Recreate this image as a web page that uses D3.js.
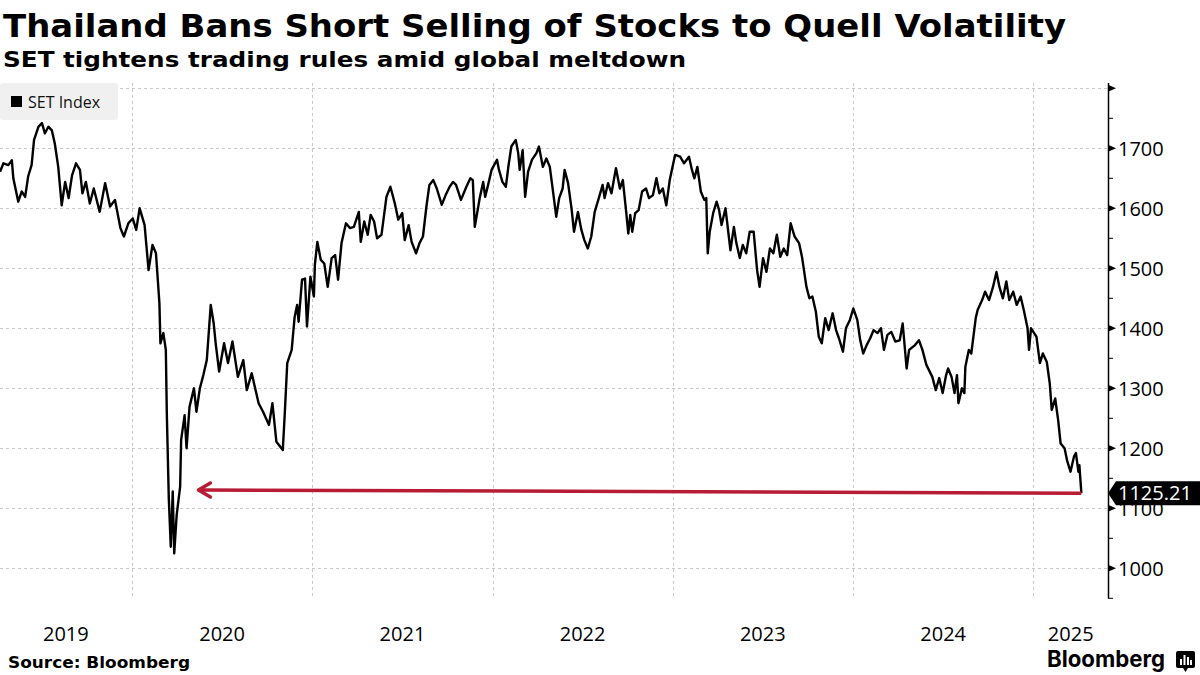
<!DOCTYPE html>
<html lang="en">
<head>
<meta charset="UTF-8">
<title>Thailand Bans Short Selling</title>
<script src="https://d3js.org/d3.v7.min.js"></script>
<style>
  body { margin: 0; background: #fff; }
  svg { display: block; }
</style>
</head>
<body>
<script>
// SET Index (approx. weekly samples)
const dates = [
  "2019-04-09","2019-04-16","2019-04-26","2019-05-03","2019-05-06","2019-05-16","2019-05-23","2019-05-30",
  "2019-06-05","2019-06-12","2019-06-17","2019-06-26","2019-07-03","2019-07-09","2019-07-16","2019-07-23",
  "2019-07-29","2019-08-05","2019-08-12","2019-08-19","2019-08-26","2019-09-02","2019-09-10","2019-09-18",
  "2019-09-23","2019-09-30","2019-10-08","2019-10-16","2019-10-28","2019-11-08","2019-11-18","2019-11-28",
  "2019-12-09","2019-12-16","2019-12-25","2020-01-03","2020-01-10","2020-01-17","2020-01-27","2020-02-04",
  "2020-02-12","2020-02-19","2020-02-26","2020-02-28","2020-03-05","2020-03-10","2020-03-12","2020-03-16",
  "2020-03-20","2020-03-24","2020-03-27","2020-04-01","2020-04-08","2020-04-10","2020-04-17","2020-04-21",
  "2020-04-27","2020-05-06","2020-05-11","2020-05-18","2020-05-25","2020-06-01","2020-06-09","2020-06-15",
  "2020-06-19","2020-06-26","2020-07-06","2020-07-14","2020-07-23","2020-08-03","2020-08-14","2020-08-21",
  "2020-08-31","2020-09-14","2020-09-23","2020-10-05","2020-10-12","2020-10-20","2020-11-02","2020-11-06",
  "2020-11-11","2020-11-20","2020-11-26","2020-12-01","2020-12-04","2020-12-11","2020-12-17","2020-12-21",
  "2020-12-28","2021-01-04","2021-01-06","2021-01-11","2021-01-18","2021-01-25","2021-02-01","2021-02-09",
  "2021-02-16","2021-02-22","2021-03-01","2021-03-10","2021-03-18","2021-03-26","2021-04-05","2021-04-09",
  "2021-04-16","2021-04-23","2021-04-29","2021-05-06","2021-05-12","2021-05-21","2021-05-31","2021-06-08",
  "2021-06-17","2021-06-24","2021-07-02","2021-07-07","2021-07-15","2021-07-21","2021-07-30","2021-08-06",
  "2021-08-13","2021-08-20","2021-08-26","2021-09-03","2021-09-10","2021-09-20","2021-09-28","2021-10-06",
  "2021-10-13","2021-10-19","2021-10-29","2021-11-09","2021-11-17","2021-11-22","2021-11-26","2021-12-06",
  "2021-12-13","2021-12-17","2021-12-23","2021-12-30","2022-01-10","2022-01-14","2022-01-21","2022-01-28",
  "2022-02-02","2022-02-08","2022-02-17","2022-02-22","2022-02-25","2022-03-03","2022-03-08","2022-03-14",
  "2022-03-22","2022-03-31","2022-04-05","2022-04-13","2022-04-20","2022-04-27","2022-05-04","2022-05-10",
  "2022-05-16","2022-05-23","2022-05-27","2022-06-03","2022-06-10","2022-06-15","2022-06-23","2022-06-30",
  "2022-07-06","2022-07-13","2022-07-20","2022-07-27","2022-08-05","2022-08-12","2022-08-16","2022-08-23",
  "2022-08-30","2022-09-08","2022-09-16","2022-09-22","2022-09-29","2022-10-03","2022-10-07","2022-10-11",
  "2022-10-17","2022-10-24","2022-10-31","2022-11-08","2022-11-14","2022-11-22","2022-11-29","2022-12-05",
  "2022-12-12","2022-12-19","2022-12-26","2023-01-03","2023-01-06","2023-01-16","2023-01-24","2023-02-03",
  "2023-02-09","2023-02-14","2023-02-20","2023-02-27","2023-03-06","2023-03-10","2023-03-13","2023-03-17",
  "2023-03-24","2023-03-31","2023-04-05","2023-04-10","2023-04-18","2023-04-24","2023-04-28","2023-05-05",
  "2023-05-10","2023-05-17","2023-05-23","2023-05-30","2023-06-06","2023-06-14","2023-06-21","2023-06-26",
  "2023-07-03","2023-07-10","2023-07-17","2023-07-24","2023-07-31","2023-08-07","2023-08-14","2023-08-21",
  "2023-08-28","2023-09-05","2023-09-14","2023-09-20","2023-09-29","2023-10-05","2023-10-11","2023-10-18",
  "2023-10-24","2023-10-30","2023-11-06","2023-11-13","2023-11-21","2023-11-28","2023-12-04","2023-12-12",
  "2023-12-18","2023-12-26","2024-01-02","2024-01-10","2024-01-16","2024-01-22","2024-01-29","2024-02-05",
  "2024-02-12","2024-02-20","2024-02-27","2024-03-04","2024-03-11","2024-03-19","2024-03-27","2024-04-05",
  "2024-04-11","2024-04-19","2024-04-24","2024-05-06","2024-05-14","2024-05-21","2024-05-29","2024-06-10",
  "2024-06-17","2024-06-24","2024-07-01","2024-07-08","2024-07-12","2024-07-19","2024-07-25","2024-07-30",
  "2024-08-02","2024-08-09","2024-08-14","2024-08-16","2024-08-23","2024-08-28","2024-09-06","2024-09-10",
  "2024-09-19","2024-09-25","2024-10-03","2024-10-11","2024-10-18","2024-10-24","2024-10-31","2024-11-07",
  "2024-11-13","2024-11-21","2024-11-28","2024-12-06","2024-12-13","2024-12-20","2024-12-23","2024-12-27",
  "2025-01-07","2025-01-14","2025-01-20","2025-01-28","2025-02-03","2025-02-07","2025-02-14","2025-02-20",
  "2025-02-25","2025-03-05","2025-03-10","2025-03-17","2025-03-24","2025-03-28","2025-04-02","2025-04-04",
  "2025-04-08"
];
const values = [
  1661,1675,1672,1680,1650,1611,1628,1619,
  1653,1672,1714,1736,1742,1725,1736,1730,
  1708,1669,1605,1644,1617,1655,1675,1664,
  1625,1644,1608,1633,1594,1642,1603,1614,
  1567,1553,1575,1583,1564,1600,1572,1497,
  1539,1525,1442,1375,1392,1364,1258,1117,
  1036,1128,1025,1089,1136,1214,1255,1200,
  1269,1300,1261,1300,1322,1347,1439,1408,
  1375,1328,1375,1342,1378,1319,1347,1297,
  1325,1275,1261,1239,1275,1211,1197,1258,
  1342,1364,1419,1439,1411,1481,1483,1403,
  1486,1453,1506,1544,1514,1508,1469,1517,
  1522,1481,1542,1575,1567,1569,1594,1544,
  1578,1556,1589,1578,1550,1556,1619,1636,
  1608,1581,1592,1547,1572,1544,1525,1542,
  1553,1603,1639,1647,1633,1606,1622,1636,
  1644,1639,1614,1636,1650,1647,1569,1617,
  1644,1619,1639,1664,1681,1664,1644,1636,
  1669,1703,1714,1692,1664,1697,1619,1661,
  1681,1692,1703,1669,1683,1669,1625,1586,
  1617,1633,1664,1642,1600,1561,1594,1564,
  1547,1533,1553,1594,1619,1639,1617,1642,
  1625,1667,1633,1647,1592,1558,1589,1561,
  1592,1597,1628,1633,1617,1622,1650,1625,
  1633,1605,1647,1678,1689,1686,1675,1686,
  1664,1650,1669,1628,1614,1617,1525,1561,
  1592,1611,1597,1572,1600,1558,1530,1569,
  1542,1517,1539,1525,1561,1561,1497,1469,
  1517,1494,1533,1525,1556,1519,1533,1522,
  1575,1553,1542,1519,1469,1450,1453,1428,
  1386,1375,1417,1397,1425,1397,1383,1361,
  1400,1414,1433,1414,1380,1358,1372,1383,
  1397,1392,1400,1364,1389,1394,1378,1380,
  1408,1333,1364,1372,1380,1364,1339,1319,
  1297,1317,1292,1322,1333,1319,1292,1322,
  1275,1300,1292,1336,1364,1358,1417,1431,
  1447,1461,1447,1469,1494,1469,1450,1478,
  1447,1461,1439,1453,1428,1400,1364,1400,
  1386,1342,1358,1344,1308,1264,1283,1247,
  1208,1200,1180,1161,1186,1192,1161,1172,
  1125.21
];

const yTicks = [1000, 1100, 1200, 1300, 1400, 1500, 1600, 1700];
const yGrid = [1000, 1100, 1200, 1300, 1400, 1500, 1600, 1700, 1800];
const yMinor = [950, 1050, 1150, 1250, 1350, 1450, 1550, 1650, 1750];
const years = [2019, 2020, 2021, 2022, 2023, 2024, 2025];
const seriesName = "SET Index";
// red arrow: from the latest close back to the March-2020 trough
const arrowFrom = { date: "2025-04-08", value: 1125.21 };
const arrowTo = { date: "2020-05-15", value: 1130.5 };

const W = 1200, H = 675;
const parse = d3.utcParse("%Y-%m-%d");
const data = dates.map((d, i) => ({ date: parse(d), value: values[i] }));

const xStart = parse("2019-04-09"), xEnd = parse("2025-06-01");
const plotRight = 1108;
const x = d3.scaleUtc().domain([xStart, xEnd]).range([0, plotRight]);
const y = d3.scaleLinear().domain([1000, 1700]).range([568.3, 148.3]);
const plotTop = y(1809), plotBottom = y(950);

const svg = d3.select("body").append("svg")
  .attr("width", W).attr("height", H)
  .style("background", "#fff");

// titles
svg.append("text").attr("x", 3).attr("y", 37)
  .attr("font-family", "DejaVu Sans").attr("font-weight", "bold")
  .attr("font-size", 32).attr("textLength", 1063).attr("lengthAdjust", "spacingAndGlyphs")
  .attr("fill", "#000")
  .text("Thailand Bans Short Selling of Stocks to Quell Volatility");
svg.append("text").attr("x", 3).attr("y", 67)
  .attr("font-family", "DejaVu Sans").attr("font-weight", "bold")
  .attr("font-size", 22).attr("textLength", 683).attr("lengthAdjust", "spacingAndGlyphs")
  .attr("fill", "#000")
  .text("SET tightens trading rules amid global meltdown");

// gridlines
const grid = svg.append("g").attr("stroke", "#c8c8c8").attr("stroke-width", 1)
  .attr("stroke-dasharray", "3,3").attr("shape-rendering", "crispEdges");
grid.selectAll("line.h").data(yGrid).enter().append("line")
  .attr("x1", 0).attr("x2", plotRight)
  .attr("y1", d => Math.round(y(d)) + 0.5).attr("y2", d => Math.round(y(d)) + 0.5);
const yearStarts = years.slice(1).map(yr => new Date(Date.UTC(yr, 0, 1)));
grid.selectAll("line.v").data(yearStarts).enter().append("line")
  .attr("x1", d => Math.round(x(d)) + 0.5).attr("x2", d => Math.round(x(d)) + 0.5)
  .attr("y1", plotTop).attr("y2", plotBottom);

// legend
const lg = svg.append("g");
lg.append("rect").attr("x", 0).attr("y", 83).attr("width", 118).attr("height", 37)
  .attr("rx", 3).attr("fill", "#f0f0f0");
lg.append("rect").attr("x", 11).attr("y", 96).attr("width", 11).attr("height", 11).attr("fill", "#000");
lg.append("text").attr("x", 28).attr("y", 108)
  .attr("font-family", "Open Sans").attr("font-size", 16).attr("fill", "#111")
  .text(seriesName);

// y axis on the right
const axisG = svg.append("g").attr("transform", `translate(${plotRight},0)`);
axisG.call(d3.axisRight(y).tickValues(yTicks).tickSize(0).tickPadding(10)
  .tickFormat(d3.format("d")));
axisG.select(".domain").remove();
axisG.selectAll("text").attr("font-family", "Open Sans").attr("font-size", 20)
  .attr("fill", "#000").attr("dy", "0.35em");
axisG.append("line").attr("x1", 0.5).attr("x2", 0.5)
  .attr("y1", plotTop).attr("y2", plotBottom).attr("stroke", "#000").attr("stroke-width", 1.5);
axisG.selectAll("path.tri").data(yGrid).enter().append("path")
  .attr("d", d => `M0,${y(d) - 3.5}L8,${y(d)}L0,${y(d) + 3.5}Z`).attr("fill", "#000");
axisG.selectAll("line.minor").data(yMinor).enter().append("line")
  .attr("x1", 0).attr("x2", 5).attr("y1", d => y(d)).attr("y2", d => y(d))
  .attr("stroke", "#000").attr("stroke-width", 1);

// year labels centred in the visible part of each year
const yearLabels = years.map(yr => {
  const a = new Date(Date.UTC(yr, 0, 1)), b = new Date(Date.UTC(yr + 1, 0, 1));
  const x0 = Math.max(0, x(a)), x1 = Math.min(plotRight, x(b));
  return { yr, cx: (x0 + x1) / 2 };
});
svg.append("g").selectAll("text").data(yearLabels).enter().append("text")
  .attr("x", d => d.cx).attr("y", 641).attr("text-anchor", "middle")
  .attr("font-family", "Open Sans").attr("font-size", 20).attr("fill", "#000")
  .text(d => d.yr);

// series line
const line = d3.line().x(d => x(d.date)).y(d => y(d.value));
svg.append("path").datum(data)
  .attr("d", line).attr("fill", "none").attr("stroke", "#000")
  .attr("stroke-width", 2.4).attr("stroke-linejoin", "round");

// red annotation arrow
const ax1 = x(parse(arrowFrom.date)), ay1 = y(arrowFrom.value);
const ax2 = x(parse(arrowTo.date)), ay2 = y(arrowTo.value);
const red = "#b81c35";
svg.append("line").attr("x1", ax1).attr("y1", ay1).attr("x2", ax2 + 2).attr("y2", ay2)
  .attr("stroke", red).attr("stroke-width", 3.5);
svg.append("path")
  .attr("d", `M${ax2 + 12},${ay2 - 7}L${ax2},${ay2}L${ax2 + 12},${ay2 + 7}`)
  .attr("fill", "none").attr("stroke", red).attr("stroke-width", 3.5)
  .attr("stroke-linecap", "round").attr("stroke-linejoin", "round");

// last value tag
const last = data[data.length - 1];
const ly = y(last.value);
const tag = svg.append("g").attr("transform", `translate(${plotRight},${ly})`);
tag.append("path").attr("d", "M0,0L8,-12L92,-12L92,12L8,12Z").attr("fill", "#000");
tag.append("text").attr("x", 10).attr("y", 0).attr("dy", "0.35em")
  .attr("font-family", "Open Sans").attr("font-size", 20).attr("fill", "#fff")
  .text(d3.format(".2f")(last.value));

// footer
svg.append("text").attr("x", 8).attr("y", 668)
  .attr("font-family", "DejaVu Sans").attr("font-weight", "bold").attr("font-size", 16)
  .attr("textLength", 182).attr("lengthAdjust", "spacingAndGlyphs")
  .attr("fill", "#000").text("Source: Bloomberg");
svg.append("text").attr("x", 1047).attr("y", 667)
  .attr("font-family", "Inter").attr("font-weight", "bold").attr("font-size", 23)
  .attr("textLength", 118).attr("lengthAdjust", "spacingAndGlyphs")
  .attr("fill", "#000").text("Bloomberg");
const logo = svg.append("g").attr("transform", "translate(1176,651)");
logo.append("path").attr("d", "M2,0H17Q19,0 19,2V15Q19,17 17,17H12L9.5,21L7,17H2Q0,17 0,15V2Q0,0 2,0Z")
  .attr("fill", "#000");
logo.selectAll("rect").data([[4, 8, 2, 6], [7.5, 4, 2, 10], [11, 6, 2, 8], [14, 9, 2, 5]])
  .enter().append("rect")
  .attr("x", d => d[0]).attr("y", d => d[1]).attr("width", d => d[2]).attr("height", d => d[3])
  .attr("fill", "#fff");
</script>
</body>
</html>
